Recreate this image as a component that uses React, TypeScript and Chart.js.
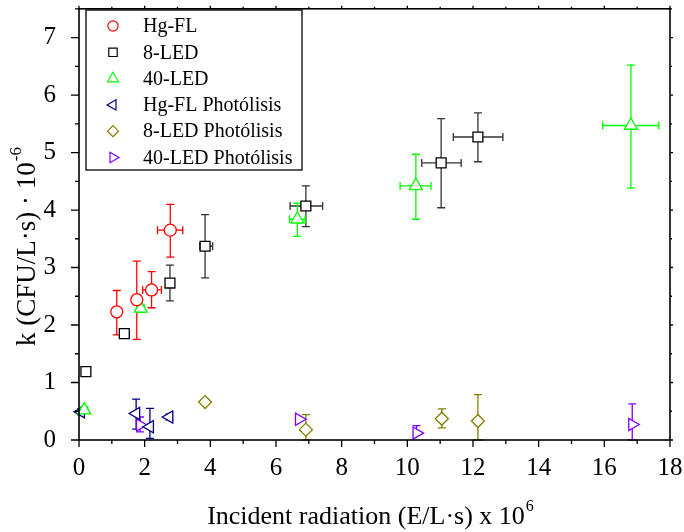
import React, { useEffect, useRef } from 'react';
import { Chart, registerables } from 'chart.js';

Chart.register(...registerables);

const FONT = '"Liberation Serif", "Times New Roman", serif';

// Axis settings
const xMin = 0;
const xMax = 18;
const yMin = 0;
const yMax = 7.5;

// Hg-FL
const hgX = [1.15, 1.76, 2.21, 2.78];
const hgY = [2.23, 2.44, 2.61, 3.65];
const hgXLo = [1.15, 1.68, 1.94, 2.39];
const hgXHi = [1.15, 1.84, 2.51, 3.16];
const hgYLo = [1.83, 1.75, 2.3, 3.18];
const hgYHi = [2.6, 3.11, 2.93, 4.1];

// 8-LED
const l8X = [0.21, 1.38, 2.77, 3.84, 6.91, 11.03, 12.15];
const l8Y = [1.19, 1.85, 2.73, 3.37, 4.07, 4.82, 5.27];
const l8XLo = [0.1, 1.33, 2.77, 3.68, 6.43, 10.44, 11.4];
const l8XHi = [0.32, 1.43, 2.77, 4.07, 7.42, 11.64, 12.91];
const l8YLo = [1.13, 1.82, 2.42, 2.82, 3.71, 4.04, 4.84];
const l8YHi = [1.25, 1.88, 3.04, 3.92, 4.42, 5.59, 5.69];

// 40-LED
const l40X = [0.16, 1.88, 6.65, 10.26, 16.81];
const l40Y = [0.52, 2.29, 3.84, 4.42, 5.47];
const l40XLo = [0.06, 1.78, 6.41, 9.78, 15.95];
const l40XHi = [0.26, 1.98, 6.89, 10.72, 17.66];
const l40YLo = [0.47, 2.22, 3.54, 3.84, 4.38];
const l40YHi = [0.57, 2.36, 4.12, 4.97, 6.52];

// Hg-FL Photólisis
const hgpX = [0.06, 1.74, 2.16, 2.75];
const hgpY = [0.49, 0.46, 0.23, 0.4];
const hgpXLo = [0.06, 1.74, 2.16, 2.75];
const hgpXHi = [0.06, 1.74, 2.16, 2.75];
const hgpYLo = [0.44, 0.19, 0.03, 0.35];
const hgpYHi = [0.54, 0.71, 0.55, 0.45];

// 8-LED Photólisis
const l8pX = [3.84, 6.91, 11.05, 12.15];
const l8pY = [0.66, 0.18, 0.37, 0.33];
const l8pXLo = [3.84, 6.91, 11.05, 12.15];
const l8pXHi = [3.84, 6.91, 11.05, 12.15];
const l8pYLo = [0.62, 0.0, 0.21, 0.0];
const l8pYHi = [0.7, 0.44, 0.54, 0.79];

// 40-LED Photólisis
const l40pX = [1.86, 6.7, 10.28, 16.85];
const l40pY = [0.26, 0.36, 0.12, 0.27];
const l40pXLo = [1.86, 6.7, 10.28, 16.85];
const l40pXHi = [1.86, 6.7, 10.28, 16.85];
const l40pYLo = [0.14, 0.34, 0.1, 0.0];
const l40pYHi = [0.4, 0.38, 0.25, 0.63];

const seriesNames = ['Hg-FL', '8-LED', '40-LED', 'Hg-FL Photólisis', '8-LED Photólisis', '40-LED Photólisis'];
const seriesColors = ['#ff0000', '#000000', '#00ff00', '#000080', '#808000', '#8000ff'];
const barColors = ['#ff0000', '#333333', '#00ff00', '#000080', '#808000', '#8000ff'];
const seriesStyles = ['circle', 'rect', 'triangle', 'triangle', 'rectRot', 'triangle'];
const seriesRotations = [0, 0, 0, -90, 0, 90];
const seriesRadius = [6, 7, 7.5, 7, 6.5, 7];

const seriesData = [
  [hgX, hgY, hgXLo, hgXHi, hgYLo, hgYHi],
  [l8X, l8Y, l8XLo, l8XHi, l8YLo, l8YHi],
  [l40X, l40Y, l40XLo, l40XHi, l40YLo, l40YHi],
  [hgpX, hgpY, hgpXLo, hgpXHi, hgpYLo, hgpYHi],
  [l8pX, l8pY, l8pXLo, l8pXHi, l8pYLo, l8pYHi],
  [l40pX, l40pY, l40pXLo, l40pXHi, l40pYLo, l40pYHi],
];

function drawMarker(ctx: CanvasRenderingContext2D, style: string, x: number, y: number, r: number, rot: number) {
  ctx.beginPath();
  if (style === 'circle') {
    ctx.arc(x, y, r, 0, Math.PI * 2);
  } else if (style === 'rect') {
    const s = r * Math.SQRT1_2;
    ctx.rect(x - s, y - s, 2 * s, 2 * s);
  } else if (style === 'rectRot') {
    ctx.moveTo(x, y - r);
    ctx.lineTo(x + r, y);
    ctx.lineTo(x, y + r);
    ctx.lineTo(x - r, y);
    ctx.closePath();
  } else {
    let a = (rot * Math.PI) / 180;
    for (let k = 0; k < 3; k++) {
      const px = x + Math.sin(a) * r;
      const py = y - Math.cos(a) * r;
      if (k === 0) ctx.moveTo(px, py);
      else ctx.lineTo(px, py);
      a += (2 * Math.PI) / 3;
    }
    ctx.closePath();
  }
  ctx.fill();
  ctx.stroke();
}

const errorBarPlugin = {
  id: 'errorBars',
  beforeDatasetsDraw(chart: any) {
    const ctx = chart.ctx;
    const xs = chart.scales.x;
    const ys = chart.scales.y;
    const cap = 4;
    ctx.save();
    ctx.lineWidth = 1.3;
    chart.data.datasets.forEach((ds: any, i: number) => {
      const [xv, yv, xlo, xhi, ylo, yhi] = seriesData[i];
      ctx.strokeStyle = barColors[i];
      ctx.beginPath();
      for (let j = 0; j < xv.length; j++) {
        const px = xs.getPixelForValue(xv[j]);
        const py = ys.getPixelForValue(yv[j]);
        const yTop = ys.getPixelForValue(yhi[j]);
        const yBot = ys.getPixelForValue(ylo[j]);
        const xL = xs.getPixelForValue(xlo[j]);
        const xR = xs.getPixelForValue(xhi[j]);
        if (Math.abs(yTop - py) > 0.5) {
          ctx.moveTo(px, py); ctx.lineTo(px, yTop);
          ctx.moveTo(px - cap, yTop); ctx.lineTo(px + cap, yTop);
        }
        if (Math.abs(yBot - py) > 0.5) {
          ctx.moveTo(px, py); ctx.lineTo(px, yBot);
          ctx.moveTo(px - cap, yBot); ctx.lineTo(px + cap, yBot);
        }
        if (Math.abs(xL - px) > 0.5) {
          ctx.moveTo(px, py); ctx.lineTo(xL, py);
          ctx.moveTo(xL, py - cap); ctx.lineTo(xL, py + cap);
        }
        if (Math.abs(xR - px) > 0.5) {
          ctx.moveTo(px, py); ctx.lineTo(xR, py);
          ctx.moveTo(xR, py - cap); ctx.lineTo(xR, py + cap);
        }
      }
      ctx.stroke();
    });
    ctx.restore();
  },
};

const framePlugin = {
  id: 'frame',
  afterDraw(chart: any) {
    const ctx = chart.ctx;
    const a = chart.chartArea;
    const xs = chart.scales.x;
    const ys = chart.scales.y;
    ctx.save();
    ctx.strokeStyle = '#000';
    ctx.lineWidth = 1.6;
    ctx.strokeRect(a.left, a.top, a.right - a.left, a.bottom - a.top);
    ctx.lineWidth = 1.3;
    ctx.beginPath();
    // x ticks
    for (let v = xMin; v <= xMax + 1e-9; v += 1) {
      const px = xs.getPixelForValue(v);
      const major = v % 2 === 0;
      const len = major ? 7 : 4;
      ctx.moveTo(px, a.bottom); ctx.lineTo(px, a.bottom + len);
      ctx.moveTo(px, a.top); ctx.lineTo(px, a.top - (major ? 3 : 2));
    }
    // y ticks
    for (let v = yMin; v <= yMax + 1e-9; v += 0.5) {
      const py = ys.getPixelForValue(v);
      const major = Math.abs(v - Math.round(v)) < 1e-9;
      const len = major ? 8 : 4;
      ctx.moveTo(a.left, py); ctx.lineTo(a.left - len, py);
      ctx.moveTo(a.right, py); ctx.lineTo(a.right + (major ? 3 : 2), py);
    }
    ctx.stroke();

    // Axis titles
    ctx.fillStyle = '#000';
    ctx.textBaseline = 'alphabetic';
    // X title
    const xMain = 'Incident radiation (E/L·s) x 10';
    const xSup = '6';
    ctx.font = `26px ${FONT}`;
    const wMain = ctx.measureText(xMain).width;
    ctx.font = `16px ${FONT}`;
    const wSup = ctx.measureText(xSup).width;
    const cx = 370;
    const startX = cx - (wMain + wSup) / 2;
    ctx.font = `26px ${FONT}`;
    ctx.textAlign = 'left';
    ctx.fillText(xMain, startX, 524);
    ctx.font = `16px ${FONT}`;
    ctx.fillText(xSup, startX + wMain + 1, 511);

    // Y title
    const yMain = 'k (CFU/L·s) · 10';
    const ySup = '-6';
    ctx.save();
    ctx.translate(35, 247);
    ctx.rotate(-Math.PI / 2);
    ctx.font = `27px ${FONT}`;
    const wyMain = ctx.measureText(yMain).width;
    ctx.font = `17px ${FONT}`;
    const wySup = ctx.measureText(ySup).width;
    const sx = -(wyMain + wySup) / 2;
    ctx.font = `27px ${FONT}`;
    ctx.fillText(yMain, sx, 0);
    ctx.font = `17px ${FONT}`;
    ctx.fillText(ySup, sx + wyMain + 1, -14);
    ctx.restore();

    // Legend
    const lx = 86, ly = 10, lw = 216, lh = 160;
    ctx.lineWidth = 1.3;
    ctx.strokeStyle = '#000';
    ctx.strokeRect(lx, ly, lw, lh);
    ctx.font = `20px ${FONT}`;
    ctx.textBaseline = 'middle';
    ctx.textAlign = 'left';
    for (let i = 0; i < seriesNames.length; i++) {
      const rowY = 26 + i * 26.3;
      ctx.fillStyle = '#fff';
      ctx.strokeStyle = seriesColors[i];
      ctx.lineWidth = 1.2;
      drawMarker(ctx, seriesStyles[i], 113, rowY, seriesRadius[i] * 0.85, seriesRotations[i]);
      ctx.fillStyle = '#000';
      ctx.fillText(seriesNames[i], 143, rowY + 1);
    }
    ctx.restore();
  },
};

const zeroPad = (s: any) => {
  s.paddingLeft = 0;
  s.paddingRight = 0;
  s.paddingTop = 0;
  s.paddingBottom = 0;
};

export default function App() {
  const canvasRef = useRef<HTMLCanvasElement | null>(null);

  useEffect(() => {
    const canvas = canvasRef.current;
    if (!canvas) return;
    const datasets = seriesNames.map((name, i) => ({
      label: name,
      data: seriesData[i][0].map((xv: number, j: number) => ({ x: xv, y: seriesData[i][1][j] })),
      pointStyle: seriesStyles[i],
      rotation: seriesRotations[i],
      pointRadius: seriesRadius[i],
      pointHoverRadius: seriesRadius[i],
      pointBorderWidth: 1.3,
      borderColor: seriesColors[i],
      backgroundColor: '#ffffff',
      showLine: false,
      clip: false as any,
    }));

    const chart = new Chart(canvas, {
      type: 'scatter',
      data: { datasets },
      options: {
        responsive: false,
        maintainAspectRatio: false,
        animation: false,
        events: [],
        layout: { padding: { top: 6, right: 14, left: 0, bottom: 0 } },
        plugins: {
          legend: { display: false },
          tooltip: { enabled: false },
        },
        scales: {
          x: {
            type: 'linear',
            min: xMin,
            max: xMax,
            grid: { display: false },
            border: { display: false },
            ticks: {
              stepSize: 2,
              autoSkip: false,
              maxRotation: 0,
              color: '#000',
              padding: 5,
              font: { family: FONT, size: 25 },
            },
            afterFit: (s: any) => { s.height = 92; zeroPad(s); },
          },
          y: {
            type: 'linear',
            min: yMin,
            max: yMax,
            grid: { display: false },
            border: { display: false },
            afterBuildTicks: (s: any) => {
              s.ticks = s.ticks.filter((t: any) => Math.abs(t.value - Math.round(t.value)) < 1e-9);
            },
            ticks: {
              stepSize: 1,
              autoSkip: false,
              color: '#000',
              padding: 15,
              font: { family: FONT, size: 25 },
            },
            afterFit: (s: any) => { s.width = 79; zeroPad(s); },
          },
        },
      },
      plugins: [errorBarPlugin, framePlugin],
    });
    return () => chart.destroy();
  }, []);

  return (
    <div style={{ position: 'fixed', left: 0, top: 0, width: 684, height: 532, background: '#fff' }}>
      <canvas ref={canvasRef} width={684} height={532} style={{ width: 684, height: 532, display: 'block' }} />
    </div>
  );
}
